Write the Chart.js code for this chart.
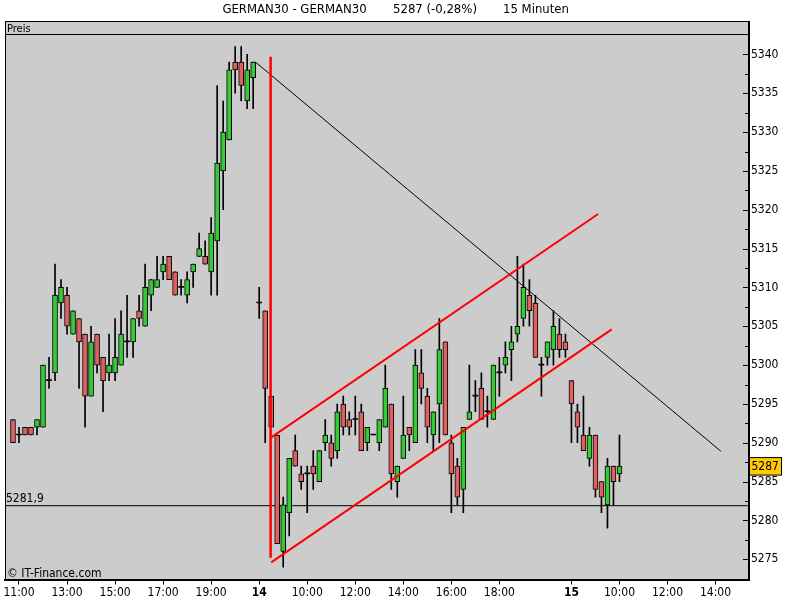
<!DOCTYPE html>
<html>
<head>
<meta charset="utf-8">
<script src="https://cdn.jsdelivr.net/npm/chart.js@4.4.1/dist/chart.umd.min.js"></script>
<style>
  html, body { margin: 0; padding: 0; background: #fff; }
  #wrap { width: 800px; height: 600px; }
</style>
</head>
<body>
<div id="wrap"><canvas id="kursChart" width="800" height="600"></canvas></div>
<script>
// GERMAN30 15-Minuten-Kerzen (13. - 15.)
const opens  = [5293,5291,5292,5292,5292,5292,5298,5299,5308,5309,5304,5306,5304,5296,5304,5301,5299,5299,5300,5303,
                5303,5307,5305,5309,5310,5312,5314,5312,5310,5309,5312,5314,5314,5312,5316,5325,5329,5339,5339,5334,
                5337,5308,5307,5296,5291,5276,5281,5289,5286,5286,5287,5285,5290,5290,5289,5295,5293,5293,5294,5290,
                5291,5290,5292,5295,5285,5288,5292,5290,5299,5296,5291,5295,5303,5290,5287,5284,5293,5296,5297,5294,
                5293,5299,5300,5302,5304,5306,5309,5308,5300,5301,5302,5304,5303,5298,5294,5291,5288,5291,5285,5282,
                5287,5286];
const highs  = [5293,5292,5292,5292,5293,5300,5301,5313,5311,5310,5307,5306,5304,5305,5304,5301,5304,5306,5307,5309,
                5306,5309,5313,5311,5314,5314,5314,5312,5311,5312,5313,5317,5316,5319,5336,5334,5339,5341,5341,5340,
                5339,5310,5307,5296,5291,5283,5288,5291,5287,5287,5289,5289,5293,5291,5295,5296,5294,5296,5295,5292,
                5291,5293,5300,5295,5287,5296,5292,5302,5302,5297,5294,5306,5303,5291,5288,5292,5300,5298,5299,5296,
                5300,5301,5303,5305,5314,5313,5311,5309,5301,5303,5307,5306,5304,5298,5295,5296,5292,5291,5285,5288,
                5287,5291];
const lows   = [5290,5290,5291,5291,5291,5292,5297,5298,5306,5304,5304,5297,5292,5296,5299,5294,5298,5298,5300,5301,
                5301,5305,5305,5307,5310,5311,5311,5309,5309,5308,5310,5314,5313,5309,5309,5320,5329,5335,5334,5333,
                5333,5306,5290,5292,5277,5274,5278,5287,5284,5281,5284,5285,5289,5287,5288,5291,5291,5291,5289,5289,
                5291,5289,5292,5284,5283,5288,5289,5290,5295,5290,5289,5290,5291,5281,5282,5281,5293,5294,5293,5292,
                5293,5296,5299,5298,5303,5305,5305,5301,5296,5300,5300,5301,5301,5290,5290,5289,5287,5283,5281,5279,
                5282,5285];
const closes = [5290,5291,5291,5291,5293,5300,5298,5309,5310,5305,5307,5303,5296,5303,5300,5298,5300,5301,5304,5303,
                5306,5306,5310,5311,5311,5313,5311,5309,5310,5311,5313,5315,5313,5317,5326,5330,5338,5338,5336,5338,
                5339,5308,5297,5292,5277,5282,5288,5287,5285,5286,5286,5289,5291,5288,5294,5292,5292,5293,5289,5292,
                5291,5293,5297,5286,5287,5291,5291,5300,5297,5292,5294,5302,5291,5286,5283,5292,5294,5296,5293,5294,
                5300,5299,5301,5303,5305,5310,5307,5301,5300,5303,5305,5302,5302,5295,5292,5289,5291,5284,5283,5287,
                5285,5287];

// Zeitachse: Kerzen-Index -> Beschriftung
const xTickPos    = [1, 9, 17, 25, 33, 41, 49, 57, 65, 73, 81, 93, 101, 109, 117];
const xTickLabels = ['11:00','13:00','15:00','17:00','19:00','14','10:00','12:00','14:00','16:00','18:00','15','10:00','12:00','14:00'];
const xTickBold   = [false,false,false,false,false,true,false,false,false,false,false,true,false,false,false];

// eingezeichnete Linien (Index, Kurs)
const downTrend    = [{x: 40.4, y: 5339}, {x: 117.9, y: 5288.9}];
const channelUpper = [{x: 43, y: 5290.7}, {x: 97.45, y: 5319.45}];
const channelLower = [{x: 43, y: 5274.6}, {x: 99.7, y: 5304.6}];
const markerLine   = [{x: 42.9, y: 5339.7}, {x: 42.9, y: 5275.2}];
const levelValue   = 5281.9;
const lastPrice    = closes[closes.length - 1];

const X_MIN = -1.33, X_MAX = 122.57;
const Y_MIN = 5272.4, Y_MAX = 5342.5;

const FONT = "'DejaVu Sans Condensed', 'Liberation Sans', sans-serif";
const GREEN = '#33cc33';
const RED = '#e06060';

const idx = opens.map((_, i) => i);
const wickData = idx.map(i => ({x: i, y: [lows[i], highs[i]]}));
const bodyData = idx.map(i => ({x: i, y: [opens[i], closes[i]]}));
const bodyColors = idx.map(i => closes[i] > opens[i] ? GREEN : (closes[i] < opens[i] ? RED : '#000'));
const bodyBorders = idx.map(i => opens[i] === closes[i] ? 0 : 1);

const framePlugin = {
    id: 'frame',
    beforeDraw(chart) {
        const ctx = chart.ctx;
        const a = chart.chartArea;
        ctx.save();
        ctx.fillStyle = '#fff';
        ctx.fillRect(0, 0, chart.width, chart.height);
        ctx.fillStyle = '#cccccc';
        ctx.fillRect(a.left, a.top, a.right - a.left, a.bottom - a.top);
        // Preis-Leiste
        ctx.fillRect(a.left, 21.5, a.right - a.left, a.top - 21.5);
        ctx.restore();
    },
    afterDraw(chart) {
        const ctx = chart.ctx;
        const a = chart.chartArea;
        const yScale = chart.scales.y;
        ctx.save();
        ctx.strokeStyle = '#000';
        ctx.lineWidth = 1;
        ctx.beginPath();
        ctx.moveTo(a.left, 21.5); ctx.lineTo(a.right, 21.5);
        ctx.moveTo(a.left, 34.5); ctx.lineTo(a.right, 34.5);
        ctx.moveTo(a.left + 0.5, 21.5); ctx.lineTo(a.left + 0.5, a.bottom);
        ctx.stroke();
        ctx.lineWidth = 2;
        ctx.beginPath();
        ctx.moveTo(a.right, 21); ctx.lineTo(a.right, a.top + 1);
        ctx.stroke();

        // Skalenstriche nach innen
        ctx.lineWidth = 1;
        ctx.beginPath();
        for (let v = 5275; v <= 5340; v += 2.5) {
            const y = Math.round(yScale.getPixelForValue(v)) + 0.5;
            const len = (v % 5 === 0) ? 5 : 3;
            ctx.moveTo(a.right - len - 1, y);
            ctx.lineTo(a.right, y);
        }
        ctx.stroke();

        ctx.fillStyle = '#000';
        ctx.textBaseline = 'middle';
        ctx.font = '13px ' + FONT;
        ctx.textAlign = 'center';
        ctx.fillText('GERMAN30 - GERMAN30', 294.5, 10);
        ctx.fillText('5287 (-0,28%)', 435, 10);
        ctx.fillText('15 Minuten', 536, 10);

        ctx.textAlign = 'left';
        ctx.textBaseline = 'alphabetic';
        ctx.font = '11px ' + FONT;
        ctx.fillText('Preis', 7, 31.5);
        ctx.font = '12px ' + FONT;
        const ly = yScale.getPixelForValue(levelValue);
        ctx.fillText('5281,9', 6, ly - 3.5);
        ctx.fillText('\u00A9 IT-Finance.com', 7, a.bottom - 3);

        // aktueller Kurs
        const py = yScale.getPixelForValue(lastPrice);
        ctx.fillStyle = '#ffcc00';
        ctx.fillRect(a.right + 1, py - 8.5, 31.5, 17.5);
        ctx.lineWidth = 1;
        ctx.strokeRect(a.right + 0.5, py - 8.5, 32, 17.5);
        ctx.fillStyle = '#000';
        ctx.textBaseline = 'middle';
        ctx.fillText(String(lastPrice), a.right + 2.5, py + 0.5);
        ctx.restore();
    }
};

const lineSet = (data, color, width, order) => ({
    type: 'line',
    data: data,
    borderColor: color,
    borderWidth: width,
    pointRadius: 0,
    fill: false,
    order: order
});

new Chart(document.getElementById('kursChart'), {
    type: 'bar',
    data: {
        datasets: [
            lineSet(markerLine, '#ff0000', 2.5, 0),
            lineSet(channelUpper, '#ff0000', 2, 0),
            lineSet(channelLower, '#ff0000', 2, 0),
            lineSet(downTrend, '#000', 1, 0),
            {
                data: bodyData,
                backgroundColor: bodyColors,
                borderColor: '#000',
                borderWidth: bodyBorders,
                borderSkipped: false,
                barThickness: 5,
                minBarLength: 1,
                grouped: false,
                order: 1
            },
            {
                data: wickData,
                backgroundColor: '#000',
                borderWidth: 0,
                barThickness: 1,
                grouped: false,
                order: 2
            },
            lineSet([{x: X_MIN, y: levelValue}, {x: X_MAX, y: levelValue}], '#000', 1, 3)
        ]
    },
    options: {
        responsive: false,
        animation: false,
        devicePixelRatio: 1,
        layout: { padding: { left: 5, top: 35, right: 0, bottom: 0 } },
        plugins: {
            legend: { display: false },
            tooltip: { enabled: false },
            title: { display: false }
        },
        events: [],
        scales: {
            x: {
                type: 'linear',
                min: X_MIN,
                max: X_MAX,
                offset: false,
                afterBuildTicks: s => { s.ticks = xTickPos.map(v => ({value: v})); },
                afterFit: s => { s.height = 20.5; },
                ticks: {
                    autoSkip: false,
                    maxRotation: 0,
                    padding: 1,
                    color: '#000',
                    font: c => ({family: FONT, size: 12, weight: xTickBold[c.index] ? 'bold' : 'normal'}),
                    callback: (v, i) => xTickLabels[i]
                },
                grid: { display: true, offset: false, drawOnChartArea: false, drawTicks: true, tickLength: 5, color: '#000' },
                border: { display: true, color: '#000', width: 2 }
            },
            y: {
                position: 'right',
                min: Y_MIN,
                max: Y_MAX,
                afterFit: s => { s.width = 51; },
                ticks: {
                    stepSize: 5,
                    includeBounds: false,
                    padding: 2,
                    color: '#000',
                    font: { family: FONT, size: 12 },
                    callback: v => String(v)
                },
                grid: { display: false, drawTicks: false },
                border: { display: true, color: '#000', width: 2 }
            }
        }
    },
    plugins: [framePlugin]
});
</script>
</body>
</html>
